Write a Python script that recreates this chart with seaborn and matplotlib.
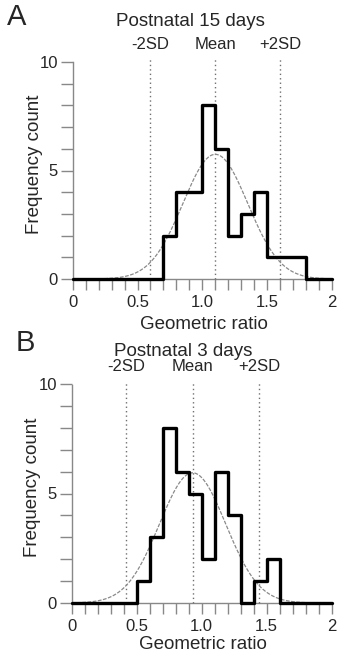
import numpy as np
import pandas as pd
import matplotlib
matplotlib.use("Agg")
import matplotlib.pyplot as plt
import seaborn as sns

# ---- data ----
bin_edges = [round(0.1 * i, 1) for i in range(21)]          # 0.0 .. 2.0
bin_centers = [round(0.05 + 0.1 * i, 2) for i in range(20)]

counts_p15 = [0, 0, 0, 0, 0, 0, 0, 2, 4, 4, 8, 6, 2, 3, 4, 1, 1, 1, 0, 0]
counts_p3 = [0, 0, 0, 0, 0, 1, 3, 8, 6, 5, 2, 6, 4, 0, 1, 2, 0, 0, 0, 0]

mean_p15, sd_p15 = 1.10, 0.25
mean_p3, sd_p3 = 0.93, 0.255

titles = ["Postnatal 15 days", "Postnatal 3 days"]
panel_letters = ["A", "B"]
sd_labels = ["-2SD", "Mean", "+2SD"]
xtick_vals = [0, 0.5, 1.0, 1.5, 2]
xtick_labels = ["0", "0.5", "1.0", "1.5", "2"]
ytick_vals = [0, 5, 10]
ytick_labels = ["0", "5", "10"]

sns.set_style("ticks")
plt.rcParams["font.family"] = ["Liberation Sans", "DejaVu Sans"]

W, H = 341, 653
fig = plt.figure(figsize=(W / 100, H / 100), dpi=100)

# axes rectangles in pixels: left, right, top, bottom
rects = [(72.7, 332.0, 62, 279), (71.7, 331.7, 384, 603)]
datasets = [(counts_p15, mean_p15, sd_p15), (counts_p3, mean_p3, sd_p3)]
title_pos = [(190, 22), (183, 352)]
letter_pos = [(17, 17), (25, 343)]
xlabel_y = [-0.232, -0.208]

for i, ((l, r, t, b), (counts, mu, sd)) in enumerate(zip(rects, datasets)):
    ax = fig.add_axes([l / W, 1 - b / H, (r - l) / W, (b - t) / H])
    df = pd.DataFrame({"ratio": bin_centers, "count": counts})
    sns.histplot(data=df, x="ratio", weights="count", bins=bin_edges,
                 element="step", fill=False, color="black", linewidth=2.4,
                 ax=ax, clip_on=False, zorder=5)

    # fitted normal curve
    n = sum(counts)
    xs = np.linspace(0, 2, 401)
    ys = n * 0.1 * np.exp(-0.5 * ((xs - mu) / sd) ** 2) / (sd * np.sqrt(2 * np.pi))
    sns.lineplot(x=xs, y=ys, ax=ax, color="#8a8a8a", linewidth=0.9,
                 linestyle=(0, (3, 1.2)), zorder=4)

    marks = [mu - 2 * sd, mu, mu + 2 * sd]
    ax.vlines(marks, 0, 10.15, colors="#707070", linestyles=(0, (1, 2.2)),
              linewidth=1.0, clip_on=False, zorder=3)
    for xm, lab in zip(marks, sd_labels):
        ax.text(xm, 10.8, lab, ha="center", va="center", fontsize=12)

    ax.set_xlim(0, 2)
    ax.set_ylim(0, 10)
    ax.set_xticks(xtick_vals)
    ax.set_xticklabels(xtick_labels)
    ax.set_xticks(np.arange(0, 2.01, 0.1), minor=True)
    ax.set_yticks(ytick_vals)
    ax.set_yticklabels(ytick_labels)
    ax.set_yticks(range(0, 11), minor=True)
    ax.tick_params(axis="both", which="both", color="#888888", width=1.0,
                   labelsize=12)
    ax.tick_params(axis="y", which="both", length=8.5, pad=2)
    ax.tick_params(axis="x", which="both", length=8, pad=3.5)

    for s in ["top", "right"]:
        ax.spines[s].set_visible(False)
    for s in ["left", "bottom"]:
        ax.spines[s].set_color("#888888")
        ax.spines[s].set_linestyle((0, (1, 1)))
        ax.spines[s].set_linewidth(1.0)

    ax.set_xlabel("Geometric ratio", fontsize=13.5)
    ax.set_ylabel("Frequency count", fontsize=13.5, va="center")
    ax.xaxis.set_label_coords(0.506, xlabel_y[i])
    ax.yaxis.set_label_coords(-0.149, 0.53)
    ax.xaxis.label.set_va("baseline")

    fig.text(title_pos[i][0] / W, 1 - title_pos[i][1] / H, titles[i],
             ha="center", va="center", fontsize=13.5)
    fig.text(letter_pos[i][0] / W, 1 - letter_pos[i][1] / H, panel_letters[i],
             ha="center", va="center", fontsize=21)

fig.savefig("out.png", dpi=100)
